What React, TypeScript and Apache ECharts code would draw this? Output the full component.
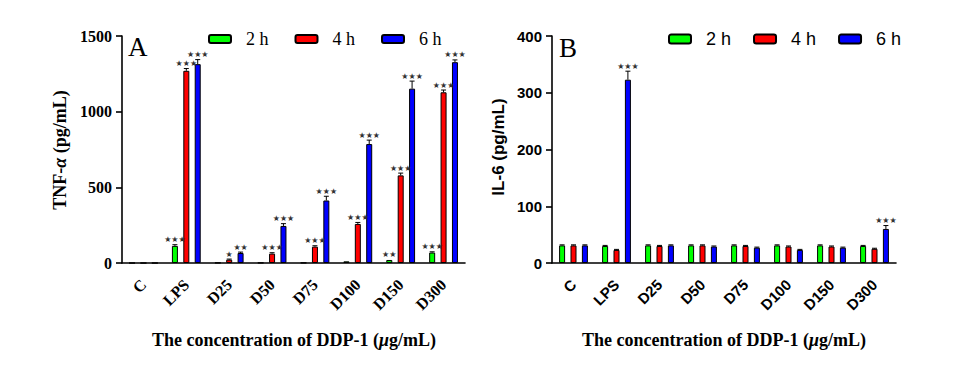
import React, { useEffect, useRef } from "react";
import * as echarts from "echarts";

const categories = ["C", "LPS", "D25", "D50", "D75", "D100", "D150", "D300"];
const seriesNames = ["2 h", "4 h", "6 h"];
const seriesColors = ["#00ff00", "#ff0000", "#0000ff"];

// TNF-α (pg/mL)
const tnf2h = [0, 113, 2, 2, 2, 11, 20, 69];
const tnf4h = [0, 1270, 22, 62, 108, 258, 579, 1128];
const tnf6h = [0, 1314, 66, 245, 413, 786, 1152, 1327];
const tnf2hErr = [0, 8, 0, 0, 0, 2, 3, 5];
const tnf4hErr = [0, 15, 4, 6, 6, 10, 15, 15];
const tnf6hErr = [0, 30, 6, 15, 28, 26, 50, 15];
const tnf2hSig = ["", "***", "", "", "", "", "**", "***"];
const tnf4hSig = ["", "***", "*", "***", "***", "***", "***", "***"];
const tnf6hSig = ["", "***", "**", "***", "***", "***", "***", "***"];

// IL-6 (pg/mL)
const il2h = [31, 30, 31, 31, 31, 31, 31, 30];
const il4h = [31, 23, 30, 31, 30, 29, 29, 25];
const il6h = [31, 323, 31, 29, 27, 23, 27, 60];
const il2hErr = [1, 1, 1, 1, 1, 1, 1, 1];
const il4hErr = [1, 1, 1, 1, 1, 1, 1, 1];
const il6hErr = [1, 15, 1, 1, 1, 1, 1, 6];
const il2hSig = ["", "", "", "", "", "", "", ""];
const il4hSig = ["", "", "", "", "", "", "", ""];
const il6hSig = ["", "***", "", "", "", "", "", "***"];

const tnfAxis = { min: 0, max: 1500, interval: 500 };
const ilAxis = { min: 0, max: 400, interval: 100 };

const SERIF = "'Liberation Serif', 'Times New Roman', serif";
const SANS = "'Liberation Sans', Arial, sans-serif";

const BAR_W = 6;
const BAR_GAP = 0.9;

function makeBars(grid: number, values: number[][]) {
  return values.map((vals, s) => ({
    name: seriesNames[s],
    type: "bar",
    xAxisIndex: grid,
    yAxisIndex: grid,
    barWidth: BAR_W,
    barGap: BAR_GAP * 100 + "%",
    data: vals,
    itemStyle: { color: seriesColors[s], borderColor: "#000", borderWidth: 1 },
    z: 2,
  }));
}

function makeErr(grid: number, values: number[][], errs: number[][], sigs: string[][]) {
  return values.map((vals, s) => {
    const offset = (s - 1) * BAR_W * (1 + BAR_GAP);
    const sig = sigs[s];
    return {
      type: "custom",
      xAxisIndex: grid,
      yAxisIndex: grid,
      clip: false,
      silent: true,
      z: 4,
      data: vals.map((v, i) => [i, v, errs[s][i]]),
      renderItem: (params: any, api: any) => {
        const i = api.value(0);
        const v = api.value(1);
        const e = api.value(2);
        const base = api.coord([i, v]);
        const top = api.coord([i, v + e]);
        const x = base[0] + offset;
        const children: any[] = [];
        if (e > 0 && top[1] < base[1] - 0.5) {
          children.push({
            type: "line",
            shape: { x1: x, y1: base[1], x2: x, y2: top[1] },
            style: { stroke: "#000", lineWidth: 1 },
          });
          children.push({
            type: "line",
            shape: { x1: x - 2.5, y1: top[1], x2: x + 2.5, y2: top[1] },
            style: { stroke: "#000", lineWidth: 1 },
          });
        }
        const label = sig[params.dataIndex];
        if (label) {
          children.push({
            type: "text",
            x: x,
            y: top[1] - 1,
            style: {
              text: label.replace(/\*/g, "★"),
              align: "center",
              verticalAlign: "bottom",
              fontSize: 8,
              fontFamily: "'DejaVu Sans', sans-serif",
              fill: "#333",
            },
          });
        }
        return { type: "group", children };
      },
    };
  });
}

function xAxis(grid: number, font: string, size: number) {
  return {
    type: "category",
    gridIndex: grid,
    data: categories,
    axisLine: { lineStyle: { color: "#000", width: 1.6 } },
    axisTick: { alignWithLabel: true, length: 6, lineStyle: { color: "#000", width: 1.6 } },
    axisLabel: {
      interval: 0,
      rotate: 45,
      margin: 19,
      color: "#000",
      fontFamily: font,
      fontWeight: "bold",
      fontSize: size,
    },
  };
}

function yAxis(grid: number, cfg: any, font: string, size: number) {
  return {
    type: "value",
    gridIndex: grid,
    min: cfg.min,
    max: cfg.max,
    interval: cfg.interval,
    axisLine: { show: true, lineStyle: { color: "#000", width: 1.6 } },
    axisTick: { show: true, length: 6, lineStyle: { color: "#000", width: 1.6 } },
    splitLine: { show: false },
    axisLabel: {
      margin: 10,
      color: "#000",
      fontFamily: font,
      fontWeight: "bold",
      fontSize: size,
      formatter: (v: number) => String(v),
    },
  };
}

export default function App() {
  const ref = useRef<HTMLDivElement>(null);
  useEffect(() => {
    if (!ref.current) return;
    const chart = echarts.init(ref.current, undefined, { renderer: "svg" });
    const tnfVals = [tnf2h, tnf4h, tnf6h];
    const ilVals = [il2h, il4h, il6h];
    const xTitle = {
      text: "{b|The concentration of DDP-1 (}{i|μ}{b|g/mL)}",
      align: "center",
      verticalAlign: "middle",
      rich: {
        b: { fontFamily: SERIF, fontWeight: "bold", fontSize: 18, fill: "#000" },
        i: { fontFamily: SERIF, fontWeight: "bold", fontStyle: "italic", fontSize: 18, fill: "#000" },
      },
    };
    chart.setOption({
      animation: false,
      backgroundColor: "#fff",
      grid: [
        { left: 122, top: 36, width: 343, height: 227 },
        { left: 552, top: 36, width: 344, height: 227 },
      ],
      legend: [
        {
          data: seriesNames,
          left: 203,
          top: 25,
          itemWidth: 22,
          itemHeight: 8,
          itemGap: 26,
          selectedMode: false,
          textStyle: { fontFamily: SERIF, fontSize: 18, color: "#000", padding: [0, 0, 0, 10] },
        },
        {
          data: seriesNames,
          left: 663,
          top: 25,
          itemWidth: 22,
          itemHeight: 9,
          itemGap: 22,
          selectedMode: false,
          textStyle: { fontFamily: SANS, fontSize: 18, color: "#000", padding: [0, 0, 0, 10] },
        },
      ],
      xAxis: [xAxis(0, SERIF, 16), xAxis(1, SANS, 15)],
      yAxis: [yAxis(0, tnfAxis, SERIF, 16), yAxis(1, ilAxis, SANS, 15)],
      series: [
        ...makeBars(0, tnfVals),
        ...makeBars(1, ilVals),
        ...makeErr(0, tnfVals, [tnf2hErr, tnf4hErr, tnf6hErr], [tnf2hSig, tnf4hSig, tnf6hSig]),
        ...makeErr(1, ilVals, [il2hErr, il4hErr, il6hErr], [il2hSig, il4hSig, il6hSig]),
      ],
      graphic: [
        {
          type: "text",
          x: 128,
          y: 47,
          style: { text: "A", fontFamily: SERIF, fontSize: 27, fill: "#000", align: "left", verticalAlign: "middle" },
        },
        {
          type: "text",
          x: 559,
          y: 48,
          style: { text: "B", fontFamily: SERIF, fontSize: 27, fill: "#000", align: "left", verticalAlign: "middle" },
        },
        {
          type: "text",
          x: 60,
          y: 150,
          rotation: Math.PI / 2,
          style: {
            text: "{b|TNF-}{i|α}{b| (pg/mL)}",
            align: "center",
            verticalAlign: "middle",
            rich: {
              b: { fontFamily: SERIF, fontWeight: "bold", fontSize: 18, fill: "#000" },
              i: { fontFamily: SERIF, fontWeight: "bold", fontStyle: "italic", fontSize: 18, fill: "#000" },
            },
          },
        },
        {
          type: "text",
          x: 498,
          y: 147,
          rotation: Math.PI / 2,
          style: {
            text: "IL-6 (pg/mL)",
            align: "center",
            verticalAlign: "middle",
            fontFamily: SANS,
            fontWeight: "bold",
            fontSize: 17,
            fill: "#000",
          },
        },
        { type: "text", x: 294, y: 340, style: xTitle },
        { type: "text", x: 724, y: 340, style: xTitle },
      ],
    });
    return () => chart.dispose();
  }, []);
  return (
    <div
      ref={ref}
      style={{ position: "absolute", left: 0, top: 0, width: 961, height: 372, background: "#fff" }}
    />
  );
}
